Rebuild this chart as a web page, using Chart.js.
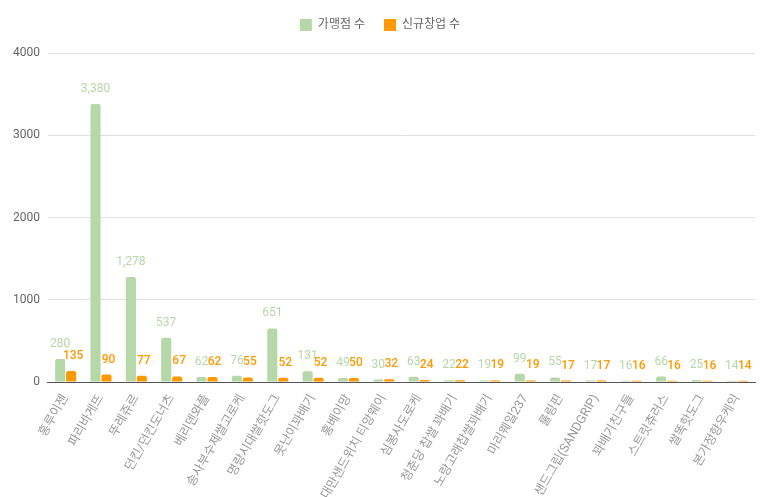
<!DOCTYPE html>
<html>
<head>
<meta charset="utf-8">
<script src="https://cdn.jsdelivr.net/npm/chart.js@4"></script>
<style>
  html, body { margin: 0; padding: 0; background: #fff; }
  #wrap { width: 773px; height: 497px; }
</style>
</head>
<body>
<div id="wrap"><canvas id="chart"></canvas></div>
<script>
const brands = [
  "홍루이젠", "파리바게뜨", "뚜레쥬르", "던킨/던킨도너츠", "베리덴와플",
  "송사부수제쌀고로케", "명랑시대쌀핫도그", "못난이꽈배기", "홍베이망", "대만샌드위치 티앙웨이",
  "심봉사도로케", "청춘당 찹쌀 꽈배기", "노랑고래찹쌀꽈배기", "마리웨일237", "룰링핀",
  "샌드그립(SANDGRIP)", "꽈배기친구들", "스트릿츄러스", "쌀똑핫도그", "본가정향우케익"
];
const storeCounts = [280, 3380, 1278, 537, 62, 76, 651, 131, 49, 30, 63, 22, 19, 99, 55, 17, 16, 66, 25, 14];
const newOpenings = [135, 90, 77, 67, 62, 55, 52, 52, 50, 32, 24, 22, 19, 19, 17, 17, 16, 16, 16, 14];
const yTicks = [0, 1000, 2000, 3000, 4000];

const FONT = "Roboto, 'Noto Sans CJK KR', sans-serif";
const GREEN = "#b6d7a8";
const ORANGE = "#ff9900";

// draws value labels above each bar (no datalabels plugin offline)
const valueLabels = {
  id: "valueLabels",
  afterDatasetsDraw(chart) {
    const ctx = chart.ctx;
    ctx.save();
    ctx.textAlign = "center";
    ctx.textBaseline = "alphabetic";
    chart.data.datasets.forEach((ds, i) => {
      const meta = chart.getDatasetMeta(i);
      ctx.fillStyle = ds.backgroundColor;
      ctx.font = (i === 1 ? "500 " : "400 ") + "12px " + FONT;
      meta.data.forEach((bar, j) => {
        ctx.fillText(ds.data[j].toLocaleString("en-US"), bar.x + (i === 1 ? 2 : 0), bar.y - 12);
      });
    });
    ctx.restore();
  },
};

// a bit more room under the legend
const legendGap = {
  id: "legendGap",
  beforeInit(chart) {
    const fit = chart.legend.fit;
    chart.legend.fit = function () {
      fit.bind(chart.legend)();
      this.height += 12;
    };
  },
};

new Chart(document.getElementById("chart"), {
  type: "bar",
  data: {
    labels: brands,
    datasets: [
      { label: "가맹점 수", data: storeCounts, backgroundColor: GREEN, borderRadius: 2, borderSkipped: "bottom" },
      { label: "신규창업 수", data: newOpenings, backgroundColor: ORANGE, borderRadius: 2, borderSkipped: "bottom" },
    ],
  },
  options: {
    responsive: true,
    maintainAspectRatio: false,
    animation: false,
    layout: { padding: { left: 5, right: 18, top: 0, bottom: 0 } },
    datasets: { bar: { categoryPercentage: 0.62, barPercentage: 0.92 } },
    scales: {
      x: {
        grid: { display: false },
        border: { color: "#555", width: 1 },
        afterFit: (axis) => { axis.height = 115; },
        ticks: {
          color: "#999",
          font: { size: 12.5, family: FONT },
          minRotation: 60,
          maxRotation: 60,
          autoSkip: false,
          padding: 2,
        },
      },
      y: {
        min: 0,
        max: 4000,
        afterBuildTicks: (axis) => { axis.ticks = yTicks.map((v) => ({ value: v })); },
        grid: { color: "#e0e0e0", drawTicks: false },
        border: { display: false },
        ticks: { color: "#666", font: { size: 12, family: FONT }, padding: 8, callback: (v) => String(v) },
      },
    },
    plugins: {
      legend: {
        position: "top",
        labels: {
          color: "#666",
          font: { size: 12, family: FONT },
          boxWidth: 12,
          boxHeight: 12,
          padding: 19,
        },
      },
      tooltip: { enabled: false },
    },
  },
  plugins: [valueLabels, legendGap],
});
</script>
</body>
</html>
